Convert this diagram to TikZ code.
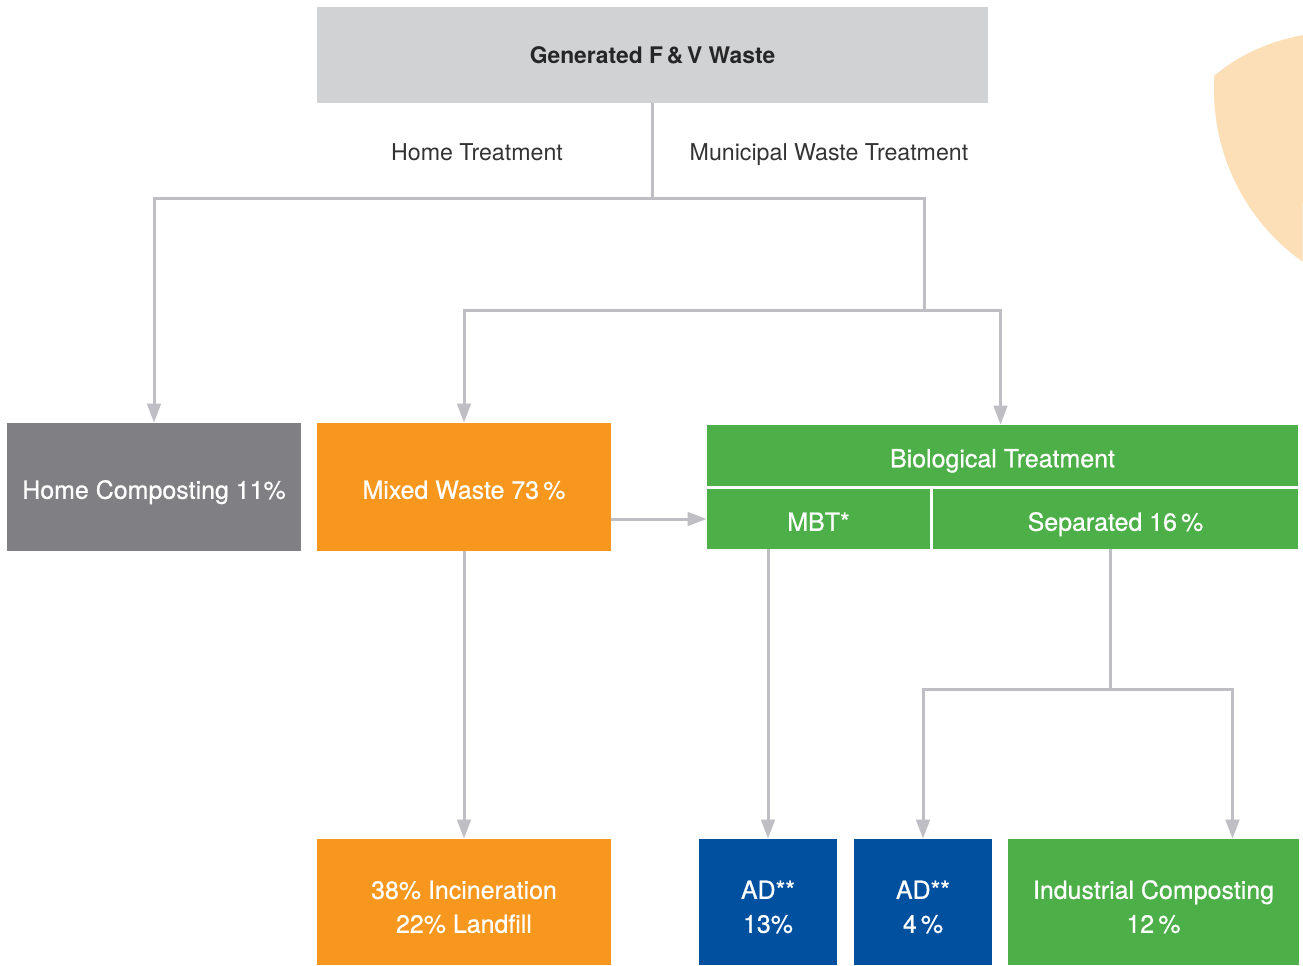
\documentclass[tikz,border=0pt]{standalone}
\usepackage{fontspec}
\setmainfont{TeX Gyre Heros}
\newfontfamily\boxfont{TeX Gyre Heros}[FakeBold=0.7]
\usetikzlibrary{arrows.meta,positioning,calc}

\definecolor{fvlight}{RGB}{209,210,212}
\definecolor{fvgray}{RGB}{128,128,132}
\definecolor{fvorange}{RGB}{247,151,30}
\definecolor{fvgreen}{RGB}{76,175,72}
\definecolor{fvblue}{RGB}{0,80,160}
\definecolor{fvline}{RGB}{190,190,196}
\definecolor{fvpeach}{RGB}{252,222,183}

\tikzset{
  box/.style={inner sep=0pt, align=center, text=white, font=\boxfont\fontsize{14.2}{19.3}\selectfont,
              text height=0.47cm, text depth=0pt},
  tallbox/.style={box, text height=1.23cm},
  branch/.style={anchor=base, text=black!80, font=\fontsize{13.2}{15}\selectfont},
  link/.style={draw=fvline, line width=0.06cm},
  arrow/.style={link, -{Triangle[length=0.38cm,width=0.27cm]}}
}

\begin{document}
\begin{tikzpicture}[x=0.02cm,y=-0.02cm]
    \useasboundingbox (0,0) rectangle (1303,965);

    % the peach shape at the top right
    \fill[fvpeach] (1303,35) .. controls (1265,42) and (1235,58) .. (1214,76)
        -- (1214,90) arc (180:125.4:210.7) -- cycle;

    % the boxes
    \node[box, fill=fvlight, text=black!85, font=\bfseries\fontsize{13}{15}\selectfont, text height=0.32cm,
          minimum width=13.42cm, minimum height=1.92cm] (gen) at (652.5,55) {Generated F\,\&\,V Waste};

    \node[box, fill=fvgray, minimum width=5.88cm, minimum height=2.56cm] (home) at (154,487) {Home Composting 11\%};
    \node[box, fill=fvorange, minimum width=5.88cm, minimum height=2.56cm] (mixed) at (464,487) {Mixed Waste 73\,\%};

    \node[box, fill=fvgreen, minimum width=11.82cm, minimum height=1.22cm] (bio) at (1002.5,455.5) {Biological Treatment};
    \node[box, fill=fvgreen, minimum width=4.46cm, minimum height=1.2cm] (mbt) at (818.5,519) {MBT*};
    \node[box, fill=fvgreen, minimum width=7.3cm, minimum height=1.2cm] (sep) at (1115.5,519) {Separated 16\,\%};

    \node[tallbox, fill=fvorange, minimum width=5.88cm, minimum height=2.52cm] (incin) at (464,902) {38\% Incineration\\22\% Landfill};
    \node[tallbox, fill=fvblue, minimum width=2.76cm, minimum height=2.52cm] (adA) at (768,902) {AD**\\13\%};
    \node[tallbox, fill=fvblue, minimum width=2.76cm, minimum height=2.52cm] (adB) at (923,902) {AD**\\4\,\%};
    \node[tallbox, fill=fvgreen, minimum width=5.82cm, minimum height=2.52cm] (indus) at (1153.5,902) {Industrial Composting\\12\,\%};

    % the branch labels
    \node[branch] (htreat) at (477,160) {Home Treatment};
    \node[branch] (mtreat) at (829,160) {Municipal Waste Treatment};

    % the connectors
    \coordinate (split1) at ($(gen.south)+(0,95)$);
    \coordinate (split2) at (924,310);
    \draw[link] (gen.south) -- (split1);
    \draw[arrow] (split1) -| (home.north);
    \draw[link] (split1) -| (split2);
    \draw[arrow] (split2) -| (mixed.north);
    \draw[arrow] (split2) -| ($(bio.north)+(-2,0)$);

    \draw[arrow] (mixed.east |- mbt.west) -- (mbt.west);
    \draw[arrow] (mixed.south) -- (incin.north);
    \draw[arrow] (adA.north |- mbt.south) -- (adA.north);

    \draw[link] ($(sep.south)+(-5,0)$) -- ++(0,140) coordinate (split3);
    \draw[arrow] (split3) -| (adB.north);
    \draw[arrow] (split3) -| ($(indus.north)+(79,0)$);
\end{tikzpicture}
\end{document}
